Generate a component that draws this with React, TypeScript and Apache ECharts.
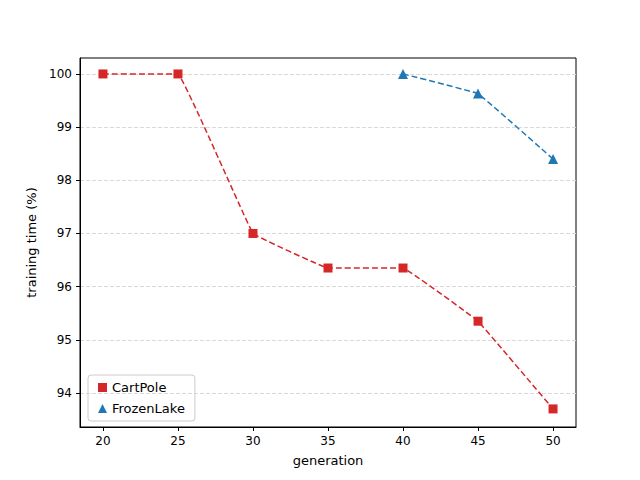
import * as echarts from "echarts";
import { useEffect, useRef } from "react";

const generations = [20, 25, 30, 35, 40, 45, 50];
const cartPole = [100, 100, 97, 96.35, 96.35, 95.35, 93.7];
const frozenGens = [40, 45, 50];
const frozenLake = [100, 99.63, 98.4];
const xTicks = [20, 25, 30, 35, 40, 45, 50];
const yTicks = [94, 95, 96, 97, 98, 99, 100];

const App: React.FC = () => {
  const chartRef = useRef<HTMLDivElement>(null);

  useEffect(() => {
    if (!chartRef.current) return;
    const chart = echarts.init(chartRef.current, undefined, { renderer: "svg" });
    const font = "DejaVu Sans";
    chart.setOption({
      animation: false,
      textStyle: { fontFamily: font },
      grid: { left: 80, right: 64, top: 58, bottom: 53, show: true, borderColor: "#000", borderWidth: 1 },
      legend: {
        left: 88,
        top: 375,
        orient: "vertical",
        itemWidth: 9,
        itemHeight: 9,
        itemGap: 8,
        padding: [6, 10, 6, 10],
        borderColor: "#ccc",
        borderWidth: 1,
        borderRadius: 3,
        textStyle: { fontSize: 13, color: "#000", fontFamily: font },
        data: [
          { name: "CartPole", icon: "rect" },
          { name: "FrozenLake", icon: "triangle" },
        ],
      },
      xAxis: {
        type: "value",
        min: 18.47,
        max: 51.53,
        name: "generation",
        nameLocation: "middle",
        nameGap: 27,
        nameTextStyle: { fontSize: 13, color: "#000" },
        axisLine: { lineStyle: { color: "#000" } },
        axisTick: { customValues: xTicks, length: 4, lineStyle: { color: "#000" } },
        axisLabel: { customValues: xTicks, color: "#000", fontSize: 12 },
        splitLine: { show: false },
      },
      yAxis: {
        type: "value",
        min: 93.36,
        max: 100.3,
        name: "training time (%)",
        nameLocation: "middle",
        nameGap: 42,
        nameTextStyle: { fontSize: 13, color: "#000" },
        axisLine: { show: true, lineStyle: { color: "#000" } },
        axisTick: { show: true, customValues: yTicks, length: 4, lineStyle: { color: "#000" } },
        axisLabel: { customValues: yTicks, color: "#000", fontSize: 12 },
        splitLine: { show: true, lineStyle: { type: "dashed", color: "#d9d9d9" } },
      },
      series: [
        {
          name: "CartPole",
          type: "line",
          data: generations.map((g, i) => [g, cartPole[i]]),
          smooth: 0.04,
          symbol: "rect",
          symbolSize: 9,
          itemStyle: { color: "#d62728" },
          lineStyle: { type: "dashed", width: 1.5, color: "#d62728" },
        },
        {
          name: "FrozenLake",
          type: "line",
          data: frozenGens.map((g, i) => [g, frozenLake[i]]),
          smooth: 0.04,
          symbol: "triangle",
          symbolSize: 10,
          itemStyle: { color: "#1f77b4" },
          lineStyle: { type: "dashed", width: 1.5, color: "#1f77b4" },
        },
      ],
    });
    return () => chart.dispose();
  }, []);

  return <div ref={chartRef} style={{ width: 640, height: 480, margin: -8 }} />;
};

export default App;
